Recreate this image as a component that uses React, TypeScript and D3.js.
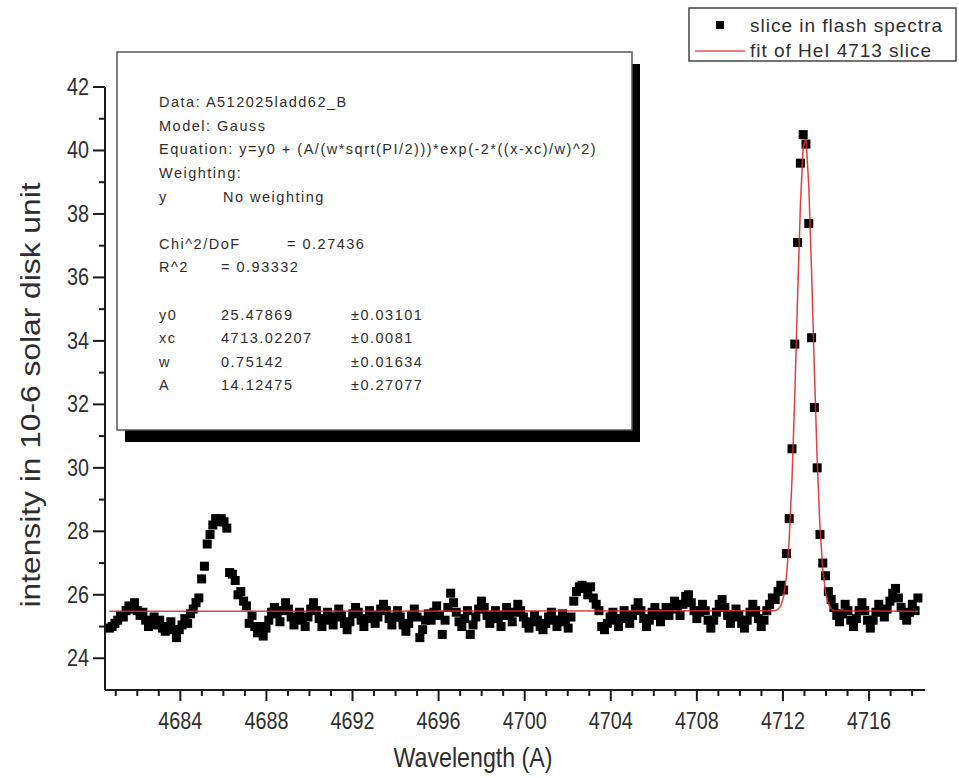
import React from "react";
import * as d3 from "d3";

// ---------- data ----------
const WL_START = 4680.7;
const WL_STEP = 0.13;

const intensity: number[] = [
  24.95, 25.0, 25.1, 25.2, 25.35, 25.3, 25.5, 25.65, 25.55, 25.75,
  25.5, 25.35, 25.45, 25.2, 25.0, 25.1, 25.3, 25.05, 25.2, 24.95,
  24.85, 25.0, 25.15, 24.9, 24.65, 24.9, 25.05, 25.25, 25.1, 25.4,
  25.55, 25.75,
  25.9, 26.5, 26.9, 27.6, 27.9, 28.2, 28.4, 28.3, 28.4, 28.3,
  28.1, 26.7, 26.65, 26.45, 26.0, 26.1, 25.8, 25.65, 25.1, 25.35,
  25.0, 24.8,
  25.0, 24.7, 24.95, 25.2, 25.45, 25.6, 25.4, 25.15, 25.5, 25.75,
  25.55, 25.3, 25.05, 25.25, 25.45, 25.2, 25.0, 25.3, 25.55, 25.75,
  25.5, 25.25, 25.0, 25.2, 25.45, 25.3, 25.05, 25.3, 25.55, 25.35,
  25.1, 24.9, 25.15, 25.4, 25.6, 25.45, 25.2, 25.0, 25.25, 25.5,
  25.35, 25.1, 25.3, 25.55, 25.7, 25.5, 25.25, 25.05, 25.3, 25.5,
  25.3, 25.05, 24.85, 25.1, 25.35, 25.55, 25.3, 24.65, 24.9, 25.2,
  25.4, 25.2, 25.45, 25.65, 25.35, 24.75, 25.2, 25.6, 26.05, 25.75,
  25.45, 25.15, 25.0, 25.25, 25.5, 24.75, 25.05, 25.3, 25.55, 25.8,
  25.6, 25.35, 25.1, 25.3, 25.5, 25.25, 25.0, 25.35, 25.6, 25.4,
  25.15, 25.45, 25.7, 25.5, 25.3, 25.1, 24.95, 25.15, 25.35, 25.2,
  25.0, 24.9, 25.1, 25.3, 25.45, 25.2, 25.0, 25.2, 25.4, 25.15,
  24.95, 25.3,
  25.8, 26.1, 26.25, 26.3, 26.2, 26.0, 26.25, 25.9, 25.7, 25.5,
  25.0,
  24.9, 25.1, 25.3, 25.45, 25.2, 25.0, 25.25, 25.5, 25.3, 25.1,
  25.35, 25.55, 25.75, 25.5, 25.25, 25.0, 25.2, 25.45, 25.6, 25.35,
  25.15, 25.4, 25.6, 25.35, 25.55, 25.8, 25.6, 25.35, 25.7, 25.95,
  26.0, 25.75, 25.5, 25.25, 25.45, 25.7, 25.5, 25.2, 24.95, 25.2,
  25.45, 25.7, 25.85, 25.6, 25.35, 25.1, 25.3, 25.55, 25.35, 25.1,
  24.95, 25.2, 25.45, 25.7, 25.5, 25.25, 25.0, 25.2, 25.5, 25.7,
  25.9,
  25.85, 26.1, 26.3, 26.15, 27.3, 28.4, 30.6, 33.9, 37.1, 39.6,
  40.5, 40.2, 37.7, 34.1, 31.9, 30.0, 27.9, 27.0, 26.6, 26.1,
  25.85,
  25.6, 25.35, 25.15, 25.4, 25.7, 25.5, 25.2, 25.0, 25.25, 25.5,
  25.75, 25.5, 25.2, 24.95, 25.2, 25.45, 25.7, 25.5, 25.3, 25.55,
  25.8, 26.05, 26.2, 25.9, 25.6, 25.35, 25.2, 25.45, 25.7, 25.5,
  25.9,
];

const fitWavelength: number[] = [
  4680.7, 4711.64, 4711.77, 4711.9, 4712.03, 4712.16, 4712.29, 4712.42,
  4712.55, 4712.68, 4712.81, 4712.94, 4713.07, 4713.2, 4713.33, 4713.46,
  4713.59, 4713.72, 4713.85, 4713.98, 4714.11, 4714.24, 4714.37, 4718.27,
];
const fitIntensity: number[] = [
  25.479, 25.496, 25.537, 25.65, 25.94, 26.56, 27.73, 29.63,
  32.29, 35.39, 38.27, 40.12, 40.35, 38.89, 36.2, 33.08,
  30.26, 28.15, 26.8, 26.06, 25.71, 25.56, 25.5, 25.479,
];

const xMajorTicks = [4684, 4688, 4692, 4696, 4700, 4704, 4708, 4712, 4716];
const yMajorTicks = [24, 26, 28, 30, 32, 34, 36, 38, 40, 42];

const xTitle = "Wavelength (A)";
const yTitle = "intensity in 10-6 solar disk unit";
const legendLabels = ["slice in flash spectra", "fit of HeI 4713 slice"];

const reportHeader = [
  "Data: A512025ladd62_B",
  "Model: Gauss",
  "Equation: y=y0 + (A/(w*sqrt(PI/2)))*exp(-2*((x-xc)/w)^2)",
  "Weighting:",
];
const weightingRow = ["y", "No weighting"];
const chiRow = ["Chi^2/DoF", "= 0.27436"];
const r2Row = ["R^2", "=  0.93332"];
const paramNames = ["y0", "xc", "w", "A"];
const paramValues = ["25.47869", "4713.02207", "0.75142", "14.12475"];
const paramErrors = ["\u00b10.03101", "\u00b10.0081", "\u00b10.01634", "\u00b10.27077"];

// ---------- helpers ----------
const FONT = "'Liberation Sans', Arial, Helvetica, sans-serif";
const TEXT = "#2e2e2e";

function CText(props: {
  x: number; y: number; size: number; anchor?: string; sx?: number;
  rotate?: number; fill?: string; ls?: number; children: React.ReactNode;
}) {
  const { x, y, size, anchor = "start", sx = 0.86, rotate, fill = TEXT, ls } = props;
  const tr = `translate(${x},${y})${rotate ? ` rotate(${rotate})` : ""} scale(${sx},1)`;
  return (
    <text transform={tr} fontSize={size} textAnchor={anchor as any} fill={fill}
      fontFamily={FONT} style={ls ? { letterSpacing: `${ls}px` } : undefined}>
      {props.children}
    </text>
  );
}

export default function App() {
  const W = 959, H = 778;
  const x = d3.scaleLinear().domain([4680.5, 4718.6]).range([105, 925]);
  const y = d3.scaleLinear().domain([23, 42]).range([690, 87]);

  const points = intensity.map((v, i) => ({ wl: WL_START + WL_STEP * i, v }));
  const fitPts = fitWavelength.map((wl, i) => [wl, fitIntensity[i]] as [number, number]);
  const line = d3.line<[number, number]>().x(d => x(d[0])).y(d => y(d[1]));

  const xMinor = d3.range(4681, 4719).filter(t => !xMajorTicks.includes(t));
  const yMinor = d3.range(25, 42, 2);
  const sq = 9;

  const box = { x: 117, y: 52, w: 515, h: 378 };
  const lineY = [107, 131, 154, 178, 202];
  const rfs = 14.5, rls = 1.5;

  return (
    <div style={{ position: "absolute", left: 0, top: 0, width: W, height: H, background: "#fff" }}>
      <svg width={W} height={H} style={{ display: "block" }}>
        <rect width={W} height={H} fill="#fff" />

        {/* data squares */}
        <g fill="#000">
          {points.map((p, i) => (
            <rect key={i} x={x(p.wl) - sq / 2} y={y(p.v) - sq / 2} width={sq} height={sq} />
          ))}
        </g>
        {/* fit line */}
        <path d={line(fitPts) || ""} fill="none" stroke="#e02a2a" strokeWidth={1.5} opacity={0.9} />

        {/* axes */}
        <g stroke="#1a1a1a" strokeWidth={2}>
          <line x1={x.range()[0]} x2={x.range()[1]} y1={690} y2={690} />
          <line x1={105} x2={105} y1={y(42)} y2={690} />
          {xMajorTicks.map(t => <line key={"xM" + t} x1={x(t)} x2={x(t)} y1={690} y2={701} />)}
          {xMinor.map(t => <line key={"xm" + t} x1={x(t)} x2={x(t)} y1={690} y2={696} />)}
          {yMajorTicks.map(t => <line key={"yM" + t} x1={93} x2={105} y1={y(t)} y2={y(t)} />)}
          {yMinor.map(t => <line key={"ym" + t} x1={99} x2={105} y1={y(t)} y2={y(t)} />)}
        </g>
        {xMajorTicks.map(t => (
          <CText key={"xl" + t} x={x(t)} y={729} size={23} anchor="middle">{t}</CText>
        ))}
        {yMajorTicks.map(t => (
          <CText key={"yl" + t} x={89} y={y(t) + 8} size={23} anchor="end">{t}</CText>
        ))}
        <CText x={473} y={767} size={27} anchor="middle">{xTitle}</CText>
        <text transform="translate(40,395) rotate(-90)" fontSize={27} textAnchor="middle"
          fill={TEXT} fontFamily={FONT} textLength={425} lengthAdjust="spacingAndGlyphs">
          {yTitle}
        </text>

        {/* fit report box */}
        <rect x={box.x + 8} y={box.y + 12} width={box.w} height={box.h} fill="#000" />
        <rect x={box.x} y={box.y} width={box.w} height={box.h} fill="#fff" stroke="#555" strokeWidth={1.5} />
        {reportHeader.map((t, i) => (
          <CText key={"rh" + i} x={159} y={lineY[i]} size={rfs} sx={1} ls={rls}>{t}</CText>
        ))}
        <CText x={159} y={lineY[4]} size={rfs} sx={1} ls={rls}>{weightingRow[0]}</CText>
        <CText x={223} y={lineY[4]} size={rfs} sx={1} ls={rls}>{weightingRow[1]}</CText>
        <CText x={159} y={249} size={rfs} sx={1} ls={rls}>{chiRow[0]}</CText>
        <CText x={287} y={249} size={rfs} sx={1} ls={rls}>{chiRow[1]}</CText>
        <CText x={159} y={272} size={rfs} sx={1} ls={rls}>{r2Row[0]}</CText>
        <CText x={221} y={272} size={rfs} sx={1} ls={rls}>{r2Row[1]}</CText>
        {paramNames.map((n, i) => (
          <g key={"p" + i}>
            <CText x={159} y={320 + i * 23.4} size={rfs} sx={1} ls={rls}>{n}</CText>
            <CText x={221} y={320 + i * 23.4} size={rfs} sx={1} ls={rls}>{paramValues[i]}</CText>
            <CText x={351} y={320 + i * 23.4} size={rfs} sx={1} ls={rls}>{paramErrors[i]}</CText>
          </g>
        ))}

        {/* legend */}
        <rect x={689} y={8} width={267} height={53} fill="#fff" stroke="#444" strokeWidth={1.5} />
        <rect x={720 - 4} y={25 - 4} width={8} height={8} fill="#000" />
        <line x1={695} x2={745} y1={51} y2={51} stroke="#e02a2a" strokeWidth={1.5} opacity={0.8} />
        <text x={750} y={32} fontSize={19} fill={TEXT} fontFamily={FONT}
          textLength={192} lengthAdjust="spacing">{legendLabels[0]}</text>
        <text x={750} y={57} fontSize={19} fill={TEXT} fontFamily={FONT}
          textLength={181} lengthAdjust="spacing">{legendLabels[1]}</text>
      </svg>
    </div>
  );
}
